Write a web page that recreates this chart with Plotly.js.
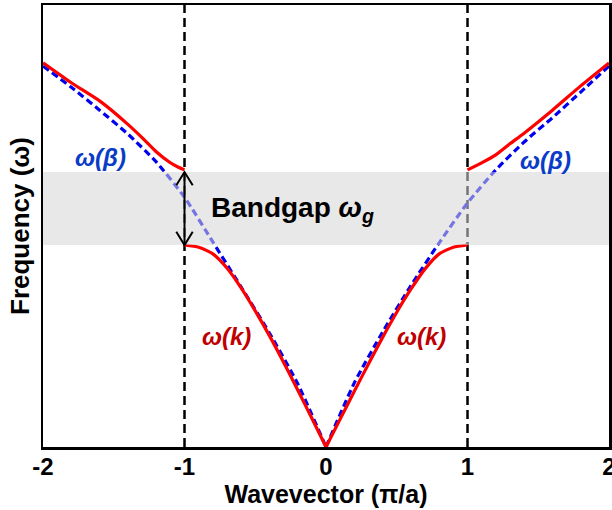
<!DOCTYPE html>
<html>
<head>
<meta charset="utf-8">
<script src="https://cdn.plot.ly/plotly-3.0.1.min.js"></script>
<style>html,body{margin:0;padding:0;background:#fff;}#chart{width:612px;height:510px;}</style>
</head>
<body>
<div id="chart"></div>
<script>
// ---- data ----
// omega(beta), blue dashed
const betaLeft  = [-2, -1.8, -1.6, -1.4, -1.2, -1.0, -0.8, -0.6, -0.4, -0.2, 0];
const omegaBetaLeft = [0.862, 0.814, 0.762, 0.708, 0.645, 0.565, 0.464, 0.362, 0.258, 0.143, 0];
const betaRight = [0, 0.2, 0.4, 0.6, 0.8, 1.0, 1.2, 1.4, 1.6, 1.8, 2];
const omegaBetaRight = [0, 0.145, 0.260, 0.365, 0.462, 0.552, 0.627, 0.690, 0.745, 0.803, 0.862];

// omega(k), red solid branches
const kUpperLeft = [-2, -1.8, -1.6, -1.4, -1.3, -1.2, -1.1, -1.05, -1];
const wUpperLeft = [0.869, 0.824, 0.783, 0.730, 0.700, 0.668, 0.643, 0.634, 0.627];
const kLowerLeft = [-1, -0.9, -0.8, -0.7, -0.6, -0.5, -0.4, -0.3, -0.2, -0.1, 0];
const wLowerLeft = [0.457, 0.452, 0.437, 0.405, 0.360, 0.308, 0.252, 0.192, 0.129, 0.065, 0];
const kLowerRight = [0, 0.1, 0.2, 0.3, 0.4, 0.5, 0.6, 0.7, 0.8, 0.9, 1];
const wLowerRight = [0, 0.063, 0.126, 0.188, 0.248, 0.305, 0.357, 0.403, 0.437, 0.452, 0.457];
const kUpperRight = [1, 1.1, 1.2, 1.3, 1.4, 1.6, 1.8, 2];
const wUpperRight = [0.627, 0.643, 0.661, 0.686, 0.710, 0.762, 0.817, 0.869];

// band gap limits and zone edges
const gapLow = 0.457;
const gapHigh = 0.622;
const zoneEdges = [-1, 1];

// tick labels
const xTickVals = [-2, -1, 0, 1, 2];
const xTickText = ['-2', '-1', '0', '1', '2'];

// ---- styles ----
const RED = '#ff0000';
const BLUE = '#0000f0';
const FONT = 'Liberation Sans, Arial, sans-serif';

function line(x, y, color, dash) {
  return {x: x, y: y, type: 'scatter', mode: 'lines', hoverinfo: 'skip', showlegend: false,
          line: {color: color, width: 3.2, dash: dash || 'solid', shape: 'spline', smoothing: 0.6}};
}

const traces = [
  line(betaLeft, omegaBetaLeft, BLUE, '7px,4px'),
  line(betaRight, omegaBetaRight, BLUE, '7px,4px'),
  line(kUpperLeft, wUpperLeft, RED),
  line(kLowerLeft, wLowerLeft, RED),
  line(kLowerRight, wLowerRight, RED),
  line(kUpperRight, wUpperRight, RED)
];

const shapes = [];
zoneEdges.forEach(function (k) {
  shapes.push({type: 'line', xref: 'x', yref: 'paper', x0: k, x1: k, y0: 0, y1: 1, layer: 'below',
               line: {color: '#000', width: 2.5, dash: '9px,5px'}});
});
shapes.push({type: 'rect', xref: 'paper', yref: 'y', x0: 0, x1: 1, y0: gapLow, y1: gapHigh,
             fillcolor: '#d6d6d6', opacity: 0.55, line: {width: 0}, layer: 'above'});
// double-headed arrow marking the gap at the left zone edge
const ax = zoneEdges[0], hw = 0.058, hh = 0.030;
shapes.push({type: 'line', xref: 'x', yref: 'y', x0: ax, x1: ax, y0: gapLow + 0.002, y1: gapHigh - 0.002,
             line: {color: '#000', width: 2}, layer: 'above'});
shapes.push({type: 'path', xref: 'x', yref: 'y', layer: 'above', line: {color: '#000', width: 2},
             path: 'M' + (ax - hw) + ',' + (gapHigh - hh) + ' L' + ax + ',' + gapHigh + ' L' + (ax + hw) + ',' + (gapHigh - hh)});
shapes.push({type: 'path', xref: 'x', yref: 'y', layer: 'above', line: {color: '#000', width: 2},
             path: 'M' + (ax - hw) + ',' + (gapLow + hh) + ' L' + ax + ',' + gapLow + ' L' + (ax + hw) + ',' + (gapLow + hh)});

function label(x, y, text, color, size, xanchor) {
  return {x: x, y: y, xref: 'x', yref: 'y', text: text, showarrow: false,
          xanchor: xanchor || 'center', yanchor: 'middle',
          font: {family: FONT, size: size, color: color}};
}

const annotations = [
  label(-1.597, 0.656, '<b><i>ω(β)</i></b>', '#0a3cc8', 24),
  label(1.548, 0.649, '<b><i>ω(β)</i></b>', '#0a3cc8', 24),
  label(-0.70, 0.249, '<b><i>ω(k)</i></b>', '#c00000', 24),
  label(0.678, 0.249, '<b><i>ω(k)</i></b>', '#c00000', 24),
  label(-0.83, 0.537, '<b>Bandgap <i>ω<sub>g</sub></i></b>', '#000', 28, 'left')
];

const layout = {
  width: 612, height: 510,
  margin: {l: 43, r: 3, t: 5, b: 63},
  paper_bgcolor: '#fff', plot_bgcolor: '#fff',
  showlegend: false,
  font: {family: FONT, color: '#000'},
  xaxis: {
    range: [-2, 2], tickvals: xTickVals, ticktext: xTickText, ticks: '',
    ticklabeloverflow: 'allow', ticklabelstandoff: -3,
    showgrid: false, zeroline: false, showline: true, linecolor: '#000', linewidth: 2.5, mirror: true,
    tickfont: {family: FONT, size: 24, color: '#000', weight: 'bold'},
    title: {text: '<b>Wavevector (π/a)</b>', font: {family: FONT, size: 25, color: '#000'}, standoff: 4},
    automargin: false
  },
  yaxis: {
    range: [0, 1], showticklabels: false, ticks: '',
    showgrid: false, zeroline: false, showline: true, linecolor: '#000', linewidth: 2.5, mirror: true,
    title: {text: '<b>Frequency (ω)</b>', font: {family: FONT, size: 26, color: '#000'}, standoff: 4},
    automargin: false
  },
  shapes: shapes,
  annotations: annotations
};

Plotly.newPlot('chart', traces, layout, {staticPlot: true, displayModeBar: false});
</script>
</body>
</html>
